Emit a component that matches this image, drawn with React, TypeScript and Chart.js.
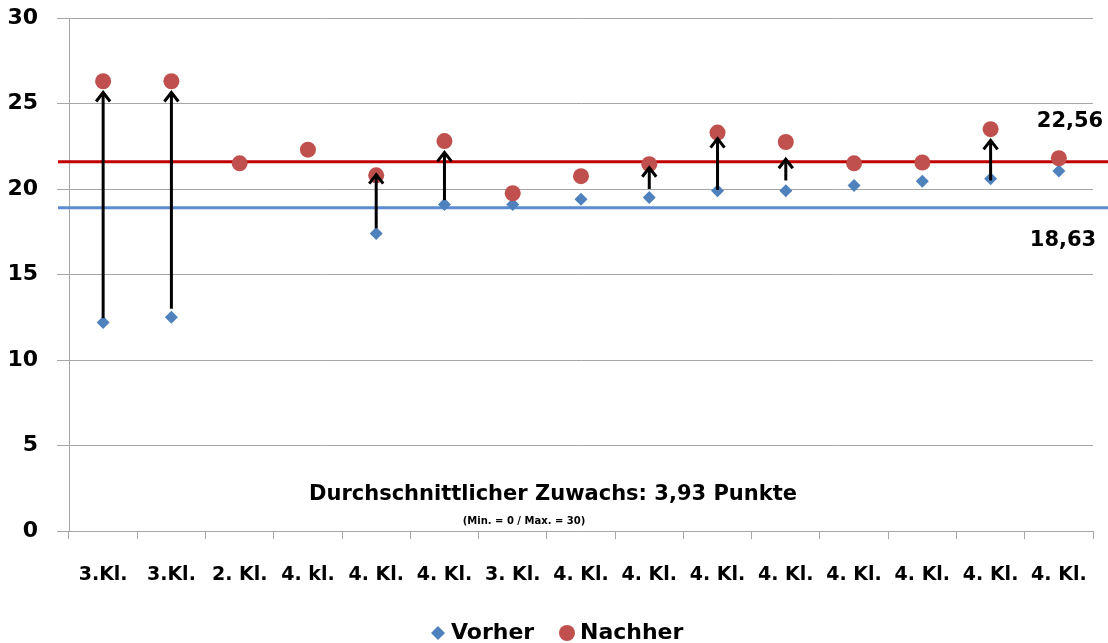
import React, { useEffect, useRef } from 'react';
import { Chart, registerables } from 'chart.js';

Chart.register(...registerables);

const categories = ['3.Kl.', '3.Kl.', '2. Kl.', '4. kl.', '4. Kl.', '4. Kl.', '3. Kl.', '4. Kl.', '4. Kl.', '4. Kl.', '4. Kl.', '4. Kl.', '4. Kl.', '4. Kl.', '4. Kl.'];
const vorher = [12.2, 12.5, 21.5, 22.3, 17.4, 19.1, 19.1, 19.4, 19.5, 19.9, 19.9, 20.2, 20.45, 20.6, 21.05];
const nachher = [26.3, 26.3, 21.5, 22.3, 20.8, 22.8, 19.75, 20.75, 21.45, 23.3, 22.75, 21.5, 21.55, 23.5, 21.8];
const arrowStart: (number | null)[] = [12.45, 13.0, null, null, 17.7, 19.35, null, null, 20.0, 19.95, 20.5, null, null, 20.5, null];
const arrowEnd: (number | null)[] = [25.7, 25.7, null, null, 20.9, 22.2, null, null, 21.3, 23.0, 21.8, null, null, 22.9, null];
const meanNachherLine = 21.6;
const meanVorherLine = 18.9;
const meanNachherLabel = '22,56';
const meanVorherLabel = '18,63';
const yMin = 0;
const yMax = 30;
const yStep = 5;
const noteMain = 'Durchschnittlicher Zuwachs: 3,93 Punkte';
const noteSub = '(Min. = 0 / Max. = 30)';
const legendLabels = ['Vorher', 'Nachher'];

const BLUE = '#4f81bd';
const RED = '#c0504d';
const FONT = '"DejaVu Sans", "Liberation Sans", sans-serif';

const overlay = {
  id: 'overlay',
  beforeDatasetsDraw(chart: any) {
    const { ctx, scales } = chart;
    const y = scales.y;
    ctx.save();
    ctx.lineWidth = 3;
    ctx.strokeStyle = '#c00000';
    const yr = y.getPixelForValue(meanNachherLine);
    ctx.beginPath();
    ctx.moveTo(58, yr);
    ctx.lineTo(1108, yr);
    ctx.stroke();
    ctx.strokeStyle = '#5a8ccf';
    const yb = y.getPixelForValue(meanVorherLine);
    ctx.beginPath();
    ctx.moveTo(58, yb);
    ctx.lineTo(1108, yb);
    ctx.stroke();
    ctx.restore();
  },
  afterDatasetsDraw(chart: any) {
    const { ctx, scales } = chart;
    const x = scales.x;
    const y = scales.y;
    ctx.save();
    ctx.strokeStyle = '#000';
    ctx.lineWidth = 3;
    ctx.lineCap = 'butt';
    ctx.lineJoin = 'miter';
    for (let i = 0; i < categories.length; i++) {
      const s = arrowStart[i];
      const e = arrowEnd[i];
      if (s == null || e == null) continue;
      const px = x.getPixelForValue(i);
      const y1 = y.getPixelForValue(s);
      const y2 = y.getPixelForValue(e);
      ctx.beginPath();
      ctx.moveTo(px, y1);
      ctx.lineTo(px, y2 + 1);
      ctx.stroke();
      ctx.beginPath();
      ctx.moveTo(px - 7, y2 + 10);
      ctx.lineTo(px, y2 + 1);
      ctx.lineTo(px + 7, y2 + 10);
      ctx.stroke();
    }
    // texts
    ctx.fillStyle = '#000';
    ctx.textAlign = 'center';
    ctx.textBaseline = 'middle';
    ctx.font = `bold 21px ${FONT}`;
    ctx.fillText(meanNachherLabel, 1070, 122);
    ctx.fillText(meanVorherLabel, 1063, 241);
    ctx.font = `bold 21px ${FONT}`;
    ctx.fillText(noteMain, 553, 495);
    ctx.font = `bold 10px ${FONT}`;
    ctx.fillText(noteSub, 524, 521);
    // legend
    ctx.font = `bold 22px ${FONT}`;
    ctx.textAlign = 'left';
    const ly = 633;
    ctx.fillStyle = BLUE;
    ctx.beginPath();
    ctx.moveTo(438, ly - 7);
    ctx.lineTo(445, ly);
    ctx.lineTo(438, ly + 7);
    ctx.lineTo(431, ly);
    ctx.closePath();
    ctx.fill();
    ctx.fillStyle = '#000';
    ctx.fillText(legendLabels[0], 451, ly);
    ctx.fillStyle = RED;
    ctx.beginPath();
    ctx.arc(567, ly, 8, 0, Math.PI * 2);
    ctx.fill();
    ctx.fillStyle = '#000';
    ctx.fillText(legendLabels[1], 580, ly);
    ctx.restore();
  },
};

export default function App() {
  const ref = useRef<HTMLCanvasElement>(null);
  useEffect(() => {
    if (!ref.current) return;
    const chart = new Chart(ref.current, {
      type: 'line',
      data: {
        labels: categories,
        datasets: [
          {
            label: legendLabels[0],
            data: vorher,
            showLine: false,
            pointStyle: 'rectRot',
            pointRadius: 6.5,
            pointBackgroundColor: BLUE,
            pointBorderColor: BLUE,
            pointBorderWidth: 0,
            order: 2,
          },
          {
            label: legendLabels[1],
            data: nachher,
            showLine: false,
            pointStyle: 'circle',
            pointRadius: 8,
            pointBackgroundColor: RED,
            pointBorderColor: RED,
            pointBorderWidth: 0,
            order: 1,
          },
        ],
      },
      options: {
        responsive: false,
        animation: false,
        layout: { padding: { top: 18, right: 15, left: 0, bottom: 0 } },
        plugins: {
          legend: { display: false },
          title: { display: false },
          tooltip: { enabled: false },
        },
        scales: {
          x: {
            type: 'category',
            offset: true,
            grid: {
              offset: true,
              drawOnChartArea: false,
              drawTicks: true,
              tickLength: 8,
              color: '#a6a6a6',
            },
            border: { display: true, color: '#a6a6a6', width: 1 },
            ticks: {
              color: '#000',
              font: { family: FONT, size: 19, weight: 'bold' },
              padding: 25,
              maxRotation: 0,
              autoSkip: false,
            },
            afterFit: (scale: any) => {
              scale.height = 112;
              scale.paddingLeft = 0;
              scale.paddingRight = 0;
            },
          },
          y: {
            min: yMin,
            max: yMax,
            grid: { color: '#a6a6a6', tickLength: 12, lineWidth: 1 },
            border: { display: true, color: '#a6a6a6', width: 1 },
            ticks: {
              stepSize: yStep,
              color: '#000',
              font: { family: FONT, size: 22, weight: 'bold' },
              padding: 19,
            },
            afterFit: (scale: any) => {
              scale.width = 69;
              scale.paddingTop = 0;
              scale.paddingBottom = 0;
            },
          },
        },
      },
      plugins: [overlay],
    });
    return () => chart.destroy();
  }, []);
  return (
    <div style={{ position: 'absolute', left: 0, top: 0, width: 1108, height: 643, background: '#fff' }}>
      <canvas ref={ref} width={1108} height={643} />
    </div>
  );
}
